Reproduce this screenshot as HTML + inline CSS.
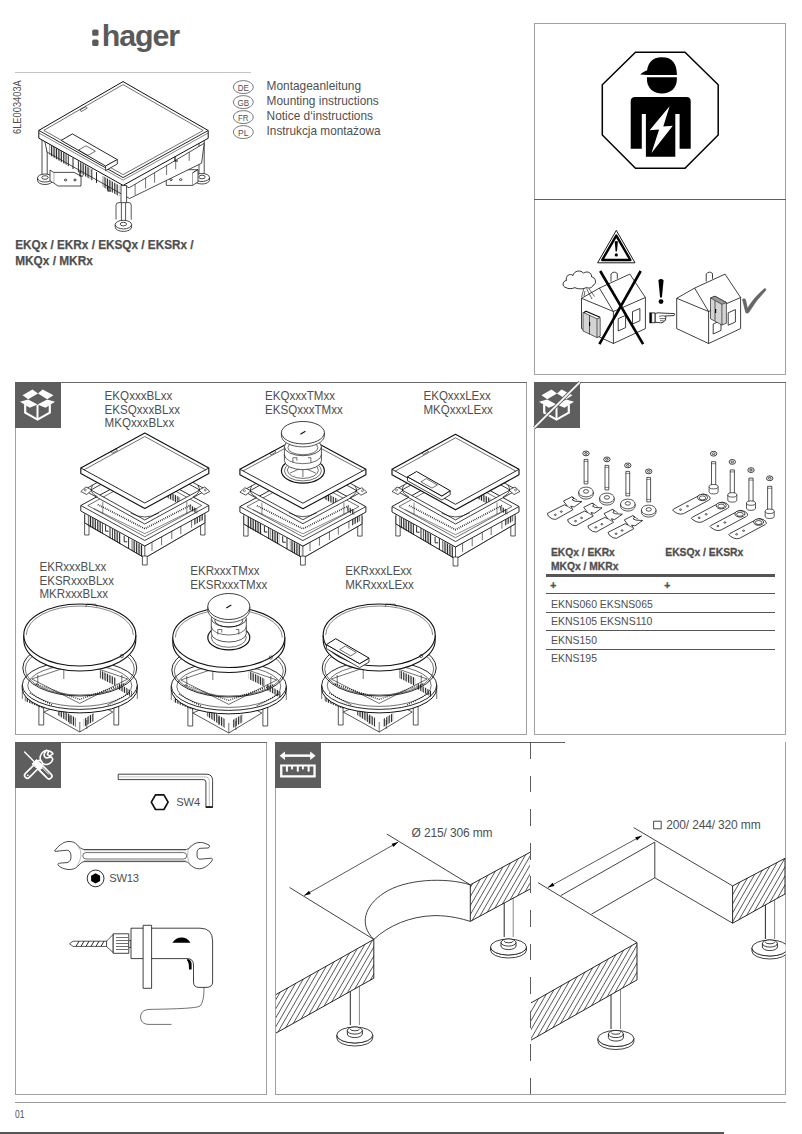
<!DOCTYPE html>
<html><head><meta charset="utf-8">
<style>
html,body{margin:0;padding:0;background:#fff;}
body{width:802px;height:1134px;overflow:hidden;position:relative;}
svg{position:absolute;left:0;top:0;}
text{font-family:"Liberation Sans",sans-serif;fill:#4f4f4f;}
.b{font-weight:700;}
</style></head><body>
<svg width="802" height="1134" viewBox="0 0 802 1134">

<g fill="none" shape-rendering="crispEdges">
  <line x1="15" y1="72.5" x2="251" y2="72.5" stroke="#c4c4c4" stroke-width="1.5"/>
  <rect x="534.5" y="23.5" width="251" height="351" stroke="#a0a0a0"/>
  <line x1="534" y1="199.5" x2="786" y2="199.5" stroke="#5e5e5e" stroke-width="1.2"/>
  <rect x="15.5" y="382.5" width="511" height="352" stroke="#a0a0a0"/>
  <line x1="15" y1="382.5" x2="527" y2="382.5" stroke="#6a6a6a"/>
  <rect x="534.5" y="382.5" width="251" height="352" stroke="#a0a0a0"/>
  <line x1="534" y1="382.5" x2="786" y2="382.5" stroke="#6a6a6a"/>
  <rect x="15.5" y="742.5" width="251" height="352" stroke="#a0a0a0"/>
  <line x1="15" y1="742.5" x2="267" y2="742.5" stroke="#6a6a6a"/>
  <line x1="275.5" y1="742" x2="275.5" y2="1095" stroke="#a0a0a0"/>
  <line x1="275" y1="1094.5" x2="786" y2="1094.5" stroke="#a0a0a0"/>
  <line x1="785.5" y1="742" x2="785.5" y2="1095" stroke="#a0a0a0"/>
  <line x1="275" y1="742.5" x2="565" y2="742.5" stroke="#5e5e5e"/>
  <line x1="530.5" y1="742" x2="530.5" y2="1094" stroke="#5e5e5e" stroke-dasharray="16.8 16.8"/>
  <line x1="15" y1="1102.5" x2="786" y2="1102.5" stroke="#9a9a9a"/>
  <line x1="0" y1="1133" x2="724" y2="1133" stroke="#555" stroke-width="2"/>
</g>
<g fill="#5e5e5e">
  <rect x="15" y="382" width="46" height="46"/>
  <rect x="534" y="382" width="46" height="46"/>
  <rect x="15" y="742" width="46" height="46"/>
  <rect x="275" y="742" width="46" height="46"/>
</g>

<g transform="translate(15,382)" fill="#fff" stroke="none">
<polygon points="7.5,13.2 17.5,7.6 23,11.6 13.2,17.3"/>
<polygon points="27.6,7.6 38.5,13.2 32.2,17.3 23,11.6"/>
<polygon points="5,19.8 13.2,17.5 22.5,22.4 14.8,25.8"/>
<polygon points="32.2,17.5 40,19.8 30.5,25.8 22.5,22.4"/>
<polyline points="10.2,22.3 10.2,30.6 22.5,37.6 34.8,30.6 34.8,22.3" fill="none" stroke="#fff" stroke-width="2.2" stroke-linejoin="miter"/>
<line x1="22.5" y1="23" x2="22.5" y2="37.6" stroke="#fff" stroke-width="2"/>
</g><g transform="translate(534,382)" fill="#fff" stroke="none">
<polygon points="7.5,13.2 17.5,7.6 23,11.6 13.2,17.3"/>
<polygon points="27.6,7.6 38.5,13.2 32.2,17.3 23,11.6"/>
<polygon points="5,19.8 13.2,17.5 22.5,22.4 14.8,25.8"/>
<polygon points="32.2,17.5 40,19.8 30.5,25.8 22.5,22.4"/>
<polyline points="10.2,22.3 10.2,30.6 22.5,37.6 34.8,30.6 34.8,22.3" fill="none" stroke="#fff" stroke-width="2.2" stroke-linejoin="miter"/>
<line x1="22.5" y1="23" x2="22.5" y2="37.6" stroke="#fff" stroke-width="2"/>
</g><line x1="534.3" y1="427.7" x2="579.7" y2="382.3" stroke="#5e5e5e" stroke-width="3.4" stroke-linecap="butt"/><line x1="534.3" y1="427.7" x2="579.7" y2="382.3" stroke="#fff" stroke-width="1.7" stroke-linecap="butt"/><g transform="translate(15,742)" fill="none" stroke-linecap="round" stroke-linejoin="round">
<line x1="12.4" y1="33.4" x2="24.5" y2="21.3" stroke="#fff" stroke-width="7.2"/>
<line x1="12.4" y1="33.4" x2="24.5" y2="21.3" stroke="#5e5e5e" stroke-width="3.8"/>
<circle cx="12.8" cy="33.3" r="0.9" fill="#fff"/>
<path d="M26.4,19.6 A6.9,6.9 0 1 1 38,11.6 L34.6,14.2 L32.4,12.6 L33.6,9.4 L31.4,8.2 L29.4,11.6 A3,3 0 0 0 32.6,15.8 L36.6,15 L37.8,17.6 A6.9,6.9 0 0 1 27.6,21.4" fill="none" stroke="#fff" stroke-width="1.6" stroke-linejoin="round"/>
<line x1="9.6" y1="10" x2="20" y2="20.4" stroke="#fff" stroke-width="1.4"/>
<path d="M17.4,21.6 L21.6,17.4 L25.6,21.4 L21.4,25.6 Z" fill="#fff" stroke="#fff" stroke-width="1"/>
<line x1="25.4" y1="25.4" x2="34" y2="34" stroke="#fff" stroke-width="7.4"/>
<line x1="25.4" y1="25.4" x2="34" y2="34" stroke="#5e5e5e" stroke-width="4"/>
<line x1="24.6" y1="27.6" x2="31.6" y2="34.6" stroke="#fff" stroke-width="1" stroke-linecap="butt"/>
<line x1="27" y1="25.6" x2="34" y2="32.6" stroke="#fff" stroke-width="1" stroke-linecap="butt"/>
<path d="M22.2,22.2 L25,25" stroke="#fff" stroke-width="5"/>
</g><g transform="translate(275,742)" fill="#fff" stroke="none">
<rect x="8.5" y="12.4" width="28.5" height="2.5"/>
<polygon points="4.6,13.65 10,9.4 10,17.9"/>
<polygon points="40.6,13.65 35.2,9.4 35.2,17.9"/>
<path d="M5.1,22.5 H40.7 V35.4 H5.1 Z M7.4,24.6 V33.3 H38.4 V24.6 Z" fill-rule="evenodd"/>
<rect x="10.9" y="24" width="2" height="5.6"/>
<rect x="16.2" y="24" width="1.8" height="3.4"/>
<rect x="21.8" y="24" width="2" height="5.6"/>
<rect x="27" y="24" width="1.8" height="3.4"/>
<rect x="32.6" y="24" width="2" height="5.6"/>
</g>
<g>
<polygon points="635.5,52.3 685,52.3 718.2,84.7 718.2,135 685,168.2 635.5,168.2 602.3,135 602.3,84.7" fill="#fff" stroke="#000" stroke-width="1.5"/>
<path d="M646.9,75 C646.6,63 652,57.2 662,57.2 C672,57.2 677,63 676.9,75 Z M640.2,74.4 C643,72 646,70.5 648.5,70 L648,75 Z" fill="#000"/>
<path d="M646.9,77.3 H676.9 V79 C676.9,88 670.5,93.6 661.9,93.6 C653.3,93.6 646.9,88 646.9,79 Z" fill="#000"/>
<path d="M635,96.9 H686.5 A4.2,4.2 0 0 1 690.7,101 V148.7 H679.6 V114 H675.3 V156.8 H645.9 V114 H641.8 V148.7 H630.7 V101 A4.2,4.2 0 0 1 635,96.9 Z" fill="#000"/>
<polygon points="669.6,106.3 649.6,130.2 659.1,129.4 651.5,152.9 672.8,125.8 663.3,126.6" fill="#fff"/>
</g>
<g stroke="#000" fill="none" stroke-width="0.75" stroke-linejoin="round"><polygon points="616.3,230.4 597.6,262.8 635,262.8" fill="#fff" stroke-width="0.9" stroke-linejoin="round"/><polygon points="616.3,235.6 602.2,260 630.4,260" fill="none" stroke-width="2.4" stroke-linejoin="round"/><path d="M614.7,241.6 Q616.3,240.2 617.9,241.6 L617,251.6 H615.6 Z" fill="#000" stroke="none"/><circle cx="616.3" cy="254.9" r="1.6" fill="#000" stroke="none"/><path d="M611,281.5 V274 Q614,270.5 617.3,273.5 V278.8" fill="#fff"/><polygon points="581.5,298.3 599.4,288.1 629.8,274.1 645.4,297.5 645.4,328.6 613.4,343.5 581.5,328.6" fill="#fff"/><polyline points="581.5,298.3 613.4,311.5 645.4,297.5"/><line x1="599.4" y1="288.1" x2="613.4" y2="311.5"/><line x1="613.4" y1="311.5" x2="613.4" y2="343.5"/><polygon points="618.2,318.6 625.6,315.4 625.6,327.6 618.2,331.0"/><polygon points="632.5,311.6 639.9,308.5 639.9,320.8 632.5,324.0"/><polygon points="583,312.3 597,318.8 600.2,317.6 600.2,336.2 597,337.6 583,331" fill="#d4d4d4" stroke-width="0.6"/><line x1="589.5" y1="315.2" x2="589.5" y2="334.2" stroke-width="0.6"/><line x1="597" y1="318.8" x2="597" y2="337.6" stroke-width="0.6"/><path d="M584,312.5 L586,311.3 L600,317.2" stroke-width="1.2"/><line x1="589.6" y1="322" x2="589.6" y2="326" stroke-width="1.2"/><path d="M706.2,281.5 V274 Q709.2,270.5 712.5,273.5 V278.8" fill="#fff"/><polygon points="676.7,298.3 694.6,288.1 725.0,274.1 740.6,297.5 740.6,328.6 708.6,343.5 676.7,328.6" fill="#fff"/><polyline points="676.7,298.3 708.6,311.5 740.6,297.5"/><line x1="694.6" y1="288.1" x2="708.6" y2="311.5"/><line x1="708.6" y1="311.5" x2="708.6" y2="343.5"/><polygon points="713.2,324.0 721.0,320.4 721.0,330.4 713.2,334.0"/><polygon points="728.2,312.8 735.4,309.6 735.4,322.0 728.2,325.2"/><polygon points="710.5,298 715,296.2 726.4,302.5 726.4,323.2 721.9,325 710.5,318.8" fill="#d4d4d4" stroke-width="0.6"/><line x1="715" y1="300.6" x2="715" y2="320.8" stroke-width="0.6"/><line x1="721.9" y1="304.4" x2="721.9" y2="325" stroke-width="0.6"/><path d="M710.5,298 L715,296.2 L726.4,302.5 L721.9,304.4 Z" fill="#999" stroke-width="0.5"/><line x1="715.6" y1="309" x2="715.6" y2="313" stroke-width="1.2"/><path d="M566,287.6 C562,287 562,281 566.5,280.5 C565,275.8 570,273 573,275.5 C574,270.5 581,269.6 583.5,273.2 C586,270.8 592,272 591.5,276.8 C596,277.5 597,284 593,285.3 C592,288.5 588,288.5 586.5,287.4 C583,289.6 577,289 575,287.6 C572,289 568,289 566,287.6 Z" fill="#fff" stroke-width="0.8"/><path d="M583.8,288.5 L581.5,297.3 M586.5,288.5 L592,299 M589,288.8 L594.5,296.5 M585,291 L584,296" stroke-width="0.6"/><line x1="600.2" y1="271" x2="643.1" y2="344.2" stroke-width="2.6"/><line x1="640.7" y1="271" x2="599.4" y2="344.2" stroke-width="2.6"/><path d="M658.4,280.2 Q661,277.8 663.6,280.2 L661.9,297.4 H660.1 Z" fill="#000" stroke="none"/><circle cx="661" cy="301.6" r="2.4" fill="#000" stroke="none"/><rect x="649.4" y="312.4" width="2.2" height="10.8" fill="#000" stroke="none"/><rect x="651.6" y="312.9" width="3.6" height="9.8" fill="#fff" stroke-width="0.8"/><path d="M655.2,313.6 Q658,312.2 661,313 L674.3,313.6 Q675.2,315 674,315.6 L664.8,316 Q666.6,317.2 665.6,318.6 Q666.2,320.8 664.2,321 Q663.6,323.2 660.6,322.8 L655.2,322.2 Z" fill="#fff" stroke-width="0.8"/><path d="M659,316.4 Q662.4,315.4 664.8,316 M659.6,318.6 L665.6,318.6 M660,320.6 L664.2,321" stroke-width="0.6"/><path d="M742.6,299.4 Q744,298 745.4,299.6 L747.4,308.6 Q755,296 764.8,288.6 Q766.4,288.8 765.6,290.4 Q755.6,300.6 748.6,312.6 Q747,313.6 745.8,312.6 Z" fill="#666" stroke="#666" stroke-width="0.8"/></g>
<g stroke="#111" fill="none" stroke-width="0.8" stroke-linejoin="round"><rect x="350.3" y="978" width="9.099999999999966" height="47" fill="#fff" stroke="none"/><line x1="350.3" y1="978" x2="350.3" y2="1025" stroke-width="0.9"/><line x1="359.4" y1="978" x2="359.4" y2="1025" stroke="#555" stroke-width="0.7"/><path d="M336.8,1035 A18,8 0 0 0 372.8,1035 V1038 A18,8 0 0 1 336.8,1038 Z" fill="#fff"/><ellipse cx="354.8" cy="1035" rx="18" ry="8" fill="#fff"/><ellipse cx="354.8" cy="1034" rx="7.5" ry="3.6" fill="#fff"/><path d="M347.3,1034 V1030.5 A7.5,3.6 0 0 1 362.3,1030.5 V1034" fill="#fff"/><path d="M347.3,1030.5 A7.5,3.6 0 0 0 362.3,1030.5" fill="none"/><path d="M350.3,1029 A4.549999999999983,1.8 0 0 0 359.4,1029" fill="none"/><rect x="504.2" y="895" width="9.000000000000057" height="42" fill="#fff" stroke="none"/><line x1="504.2" y1="895" x2="504.2" y2="937" stroke-width="0.9"/><line x1="513.2" y1="895" x2="513.2" y2="937" stroke="#555" stroke-width="0.7"/><path d="M490.5,947 A18,8 0 0 0 526.5,947 V950 A18,8 0 0 1 490.5,950 Z" fill="#fff"/><ellipse cx="508.5" cy="947" rx="18" ry="8" fill="#fff"/><ellipse cx="508.5" cy="946" rx="7.5" ry="3.6" fill="#fff"/><path d="M501.0,946 V942.5 A7.5,3.6 0 0 1 516.0,942.5 V946" fill="#fff"/><path d="M501.0,942.5 A7.5,3.6 0 0 0 516.0,942.5" fill="none"/><path d="M504.2,941 A4.500000000000028,1.8 0 0 0 513.2,941" fill="none"/><clipPath id="clipL1"><rect x="276" y="742" width="254" height="352"/></clipPath><g clip-path="url(#clipL1)"><polygon points="373.8,939.4 373.8,978.2 274.0,1034.2 274.0,995.6" fill="#fff" stroke="none"/><clipPath id="h1"><polygon points="373.8,939.4 373.8,978.2 274.0,1034.2 274.0,995.6"/></clipPath><g clip-path="url(#h1)" stroke-width="0.7"><path d="M214.3,1034.2 L269.0,939.4 M219.5,1034.2 L274.2,939.4 M224.7,1034.2 L279.4,939.4 M229.9,1034.2 L284.6,939.4 M235.1,1034.2 L289.8,939.4 M240.3,1034.2 L295.0,939.4 M245.5,1034.2 L300.2,939.4 M250.7,1034.2 L305.4,939.4 M255.9,1034.2 L310.6,939.4 M261.1,1034.2 L315.8,939.4 M266.3,1034.2 L321.0,939.4 M271.5,1034.2 L326.2,939.4 M276.7,1034.2 L331.4,939.4 M281.9,1034.2 L336.6,939.4 M287.1,1034.2 L341.8,939.4 M292.3,1034.2 L347.0,939.4 M297.5,1034.2 L352.2,939.4 M302.7,1034.2 L357.4,939.4 M307.9,1034.2 L362.6,939.4 M313.1,1034.2 L367.8,939.4 M318.3,1034.2 L373.0,939.4 M323.5,1034.2 L378.2,939.4 M328.7,1034.2 L383.4,939.4 M333.9,1034.2 L388.6,939.4 M339.1,1034.2 L393.8,939.4 M344.3,1034.2 L399.0,939.4 M349.5,1034.2 L404.2,939.4 M354.7,1034.2 L409.4,939.4 M359.9,1034.2 L414.6,939.4 M365.1,1034.2 L419.8,939.4 M370.3,1034.2 L425.0,939.4 M375.5,1034.2 L430.2,939.4" fill="none"/></g><polygon points="373.8,939.4 373.8,978.2 274.0,1034.2 274.0,995.6" fill="none" stroke-width="0.9"/></g><clipPath id="clipL"><rect x="276" y="742" width="254" height="352"/></clipPath><g clip-path="url(#clipL)"><polygon points="470.3,884.8 470.3,921.4 532.0,888.0 532.0,851.2" fill="#fff" stroke="none"/><clipPath id="h2"><polygon points="470.3,884.8 470.3,921.4 532.0,888.0 532.0,851.2"/></clipPath><g clip-path="url(#h2)" stroke-width="0.7"><path d="M424.8,921.4 L465.3,851.2 M430.0,921.4 L470.5,851.2 M435.2,921.4 L475.7,851.2 M440.4,921.4 L480.9,851.2 M445.6,921.4 L486.1,851.2 M450.8,921.4 L491.3,851.2 M456.0,921.4 L496.5,851.2 M461.2,921.4 L501.7,851.2 M466.4,921.4 L506.9,851.2 M471.6,921.4 L512.1,851.2 M476.8,921.4 L517.3,851.2 M482.0,921.4 L522.5,851.2 M487.2,921.4 L527.7,851.2 M492.4,921.4 L532.9,851.2 M497.6,921.4 L538.1,851.2 M502.8,921.4 L543.3,851.2 M508.0,921.4 L548.5,851.2 M513.2,921.4 L553.7,851.2 M518.4,921.4 L558.9,851.2 M523.6,921.4 L564.1,851.2 M528.8,921.4 L569.3,851.2 M534.0,921.4 L574.5,851.2" fill="none"/></g><polygon points="470.3,884.8 470.3,921.4 532.0,888.0 532.0,851.2" fill="none" stroke-width="0.9"/></g><line x1="289.6" y1="887.5" x2="373.8" y2="939.4"/><line x1="386.8" y1="834" x2="470.3" y2="884.8"/><path d="M470.3,884.8 C445,877 405,879 384,893 C364,906 359,925 373.8,939.4"/><path d="M373.8,939.4 C388,926 410,916 435,915.6 C450,915.6 462,918.8 470.3,921.4"/><line x1="304.2" y1="895.6" x2="398.2" y2="842.1" stroke-width="0.7"/><polygon points="304.2,895.6 309.0,890.8 310.7,893.9" fill="#000" stroke="none"/><polygon points="398.2,842.1 393.4,846.9 391.7,843.8" fill="#000" stroke="none"/><clipPath id="clipR"><rect x="531" y="742" width="254.5" height="352"/></clipPath><g clip-path="url(#clipR)"><rect x="611" y="979.9" width="9.5" height="49.10000000000002" fill="#fff" stroke="none"/><line x1="611" y1="979.9" x2="611" y2="1029" stroke-width="0.9"/><line x1="620.5" y1="979.9" x2="620.5" y2="1029" stroke="#555" stroke-width="0.7"/><path d="M597.9,1038.5 A18,8 0 0 0 633.9,1038.5 V1041.5 A18,8 0 0 1 597.9,1041.5 Z" fill="#fff"/><ellipse cx="615.9" cy="1038.5" rx="18" ry="8" fill="#fff"/><ellipse cx="615.9" cy="1037.5" rx="7.5" ry="3.6" fill="#fff"/><path d="M608.4,1037.5 V1034.0 A7.5,3.6 0 0 1 623.4,1034.0 V1037.5" fill="#fff"/><path d="M608.4,1034.0 A7.5,3.6 0 0 0 623.4,1034.0" fill="none"/><path d="M611,1032.5 A4.75,1.8 0 0 0 620.5,1032.5" fill="none"/><rect x="765.4" y="895" width="9.200000000000045" height="44" fill="#fff" stroke="none"/><line x1="765.4" y1="895" x2="765.4" y2="939" stroke-width="0.9"/><line x1="774.6" y1="895" x2="774.6" y2="939" stroke="#555" stroke-width="0.7"/><path d="M751.9,948 A18,8 0 0 0 787.9,948 V951 A18,8 0 0 1 751.9,951 Z" fill="#fff"/><ellipse cx="769.9" cy="948" rx="18" ry="8" fill="#fff"/><ellipse cx="769.9" cy="947" rx="7.5" ry="3.6" fill="#fff"/><path d="M762.4,947 V943.5 A7.5,3.6 0 0 1 777.4,943.5 V947" fill="#fff"/><path d="M762.4,943.5 A7.5,3.6 0 0 0 777.4,943.5" fill="none"/><path d="M765.4,942 A4.600000000000023,1.8 0 0 0 774.6,942" fill="none"/><polygon points="637.0,942.6 637.0,979.9 529.0,1041.3 529.0,1004.0" fill="#fff" stroke="none"/><clipPath id="h3"><polygon points="637.0,942.6 637.0,979.9 529.0,1041.3 529.0,1004.0"/></clipPath><g clip-path="url(#h3)" stroke-width="0.7"><path d="M467.1,1041.3 L524.0,942.6 M472.3,1041.3 L529.2,942.6 M477.5,1041.3 L534.4,942.6 M482.7,1041.3 L539.6,942.6 M487.9,1041.3 L544.8,942.6 M493.1,1041.3 L550.0,942.6 M498.3,1041.3 L555.2,942.6 M503.5,1041.3 L560.4,942.6 M508.7,1041.3 L565.6,942.6 M513.9,1041.3 L570.8,942.6 M519.1,1041.3 L576.0,942.6 M524.3,1041.3 L581.2,942.6 M529.5,1041.3 L586.4,942.6 M534.7,1041.3 L591.6,942.6 M539.9,1041.3 L596.8,942.6 M545.1,1041.3 L602.0,942.6 M550.3,1041.3 L607.2,942.6 M555.5,1041.3 L612.4,942.6 M560.7,1041.3 L617.6,942.6 M565.9,1041.3 L622.8,942.6 M571.1,1041.3 L628.0,942.6 M576.3,1041.3 L633.2,942.6 M581.5,1041.3 L638.4,942.6 M586.7,1041.3 L643.6,942.6 M591.9,1041.3 L648.8,942.6 M597.1,1041.3 L654.0,942.6 M602.3,1041.3 L659.2,942.6 M607.5,1041.3 L664.4,942.6 M612.7,1041.3 L669.6,942.6 M617.9,1041.3 L674.8,942.6 M623.1,1041.3 L680.0,942.6 M628.3,1041.3 L685.2,942.6 M633.5,1041.3 L690.4,942.6 M638.7,1041.3 L695.6,942.6" fill="none"/></g><polygon points="637.0,942.6 637.0,979.9 529.0,1041.3 529.0,1004.0" fill="none" stroke-width="0.9"/><polygon points="732.6,885.9 732.6,923.2 785.0,894.0 785.0,858.3" fill="#fff" stroke="none"/><clipPath id="h4"><polygon points="732.6,885.9 732.6,923.2 785.0,894.0 785.0,858.3"/></clipPath><g clip-path="url(#h4)" stroke-width="0.7"><path d="M690.2,923.2 L727.6,858.3 M695.4,923.2 L732.8,858.3 M700.6,923.2 L738.0,858.3 M705.8,923.2 L743.2,858.3 M711.0,923.2 L748.4,858.3 M716.2,923.2 L753.6,858.3 M721.4,923.2 L758.8,858.3 M726.6,923.2 L764.0,858.3 M731.8,923.2 L769.2,858.3 M737.0,923.2 L774.4,858.3 M742.2,923.2 L779.6,858.3 M747.4,923.2 L784.8,858.3 M752.6,923.2 L790.0,858.3 M757.8,923.2 L795.2,858.3 M763.0,923.2 L800.4,858.3 M768.2,923.2 L805.6,858.3 M773.4,923.2 L810.8,858.3 M778.6,923.2 L816.0,858.3 M783.8,923.2 L821.2,858.3 M789.0,923.2 L826.4,858.3" fill="none"/></g><polygon points="732.6,885.9 732.6,923.2 785.0,894.0 785.0,858.3" fill="none" stroke-width="0.9"/><line x1="538.1" y1="882.7" x2="637" y2="942.6"/><line x1="633.7" y1="827.6" x2="732.6" y2="885.9"/><polyline points="560.8,895.6 654.8,842.1 654.8,877.8 732.6,923.2"/><line x1="591.6" y1="914.1" x2="654.8" y2="877.8"/><line x1="547.8" y1="887.5" x2="641.8" y2="835.7" stroke-width="0.7"/><polygon points="547.8,887.5 552.6,882.8 554.4,885.9" fill="#000" stroke="none"/><polygon points="641.8,835.7 637.0,840.4 635.2,837.3" fill="#000" stroke="none"/></g><rect x="653.6" y="821.2" width="7.6" height="7.6" stroke="#333" stroke-width="0.9"/></g><g style="font-size:12px;letter-spacing:-0.15px"><text x="411.6" y="836.8">Ø 215/ 306 mm</text><text x="666.2" y="829">200/ 244/ 320 mm</text></g><g stroke="#111" fill="none" stroke-width="0.8" stroke-linejoin="round"><path d="M118.2,774.2 H206.2 Q212.6,774.2 212.6,780.6 V807.4 H205.9 V782.2 Q205.9,779.6 203.2,779.6 H118.2 Z" fill="#fff" stroke-width="0.8"/><path d="M118.2,776.9 H205 Q209.3,776.9 209.3,781.2 V807" stroke="#999" stroke-width="0.6"/><rect x="205.9" y="806.2" width="6.7" height="1.6" fill="#111" stroke="none"/><polygon points="168.1,802.2 163.9,809.5 155.5,809.5 151.3,802.2 155.5,794.9 163.9,794.9" stroke-width="1.7" stroke-linejoin="round"/><path d="M54.5,851 C58,846 63,842 68,841.5 C72,841.2 75,842.5 77,844.5 C79,847 81,849 84,849.5 H186.5 C189,849 191,846 194,844 C197,842.3 201,842 204,843 L209,845 C210,846.5 209.5,847.5 208,848 L200,848.3 C197.5,849 197,851 197,854 C197,857 197.5,859.2 200,859.2 L211.5,858.2 C212.8,859 212.5,860.5 211,862 C208,865.5 204,868.6 199.5,868.8 C195,869 192,866.5 189.5,864 C188,862.5 187,861.8 185,861.6 H84 C81.5,862 80,864 77.5,866.5 C75,868.8 72,869.8 68,869.5 C64,869 60,867.5 58,865 C57.6,864 58.2,863.4 59.5,863.2 L67,862.6 C70,862 71,859.5 71,856.5 C71,853 70,850.5 67,850.2 L55,851.4 Z" fill="#fff" stroke-width="0.75"/><path d="M86,852.6 H183.5 A3.2,3.2 0 0 1 183.5,859 H86 A3.2,3.2 0 0 1 86,852.6 Z" stroke-width="0.6"/><path d="M84,850.7 H186 M84,860.5 H186" stroke="#bbb" stroke-width="0.9"/><path d="M77,845 Q82,850 81,856 Q80,862 77,866 M191,845 Q187,850 187.5,856 Q188,862 191,866" stroke="#777" stroke-width="0.5"/><circle cx="95.6" cy="878.4" r="8.4" stroke-width="0.9"/><polygon points="100.1,881.0 95.6,883.6 91.1,881.0 91.1,875.8 95.6,873.2 100.1,875.8" fill="#000" stroke="none"/><path d="M69.5,943.8 L73,941.2 H107 V946.4 H73 Z" fill="#fff" stroke-width="0.7"/><path d="M76,946.4 L79,941.2 M81,946.4 L84,941.2 M86,946.4 L89,941.2 M91,946.4 L94,941.2 M96,946.4 L99,941.2 M101,946.4 L104,941.2" stroke-width="0.9"/><path d="M106.6,946.6 L113.2,952.6 V934.4 L106.6,941 Z" fill="#fff" stroke-width="0.7"/><rect x="113.2" y="933.8" width="15.6" height="19.5" fill="#fff" stroke-width="0.8"/><path d="M116,937.5 H128 M116,940.5 H128 M116,943.5 H128 M116,946.5 H128 M116,949.5 H128" stroke-width="0.6"/><rect x="128.8" y="940.5" width="2.2" height="7" fill="#fff" stroke-width="0.6"/><path d="M131,928.2 H200 Q212.6,928.2 212.6,941 V982 Q212.6,987.4 206,987.4 H199 Q193.5,987.4 193.5,982 V965 Q193.5,958.6 187,958.6 H131 Z" fill="#fff" stroke-width="0.8"/><rect x="143.1" y="925.3" width="8.5" height="63" fill="#fff" stroke-width="0.8"/><path d="M172.3,942.8 Q176,937.6 181.5,937.6 Q187.5,937.6 190.4,942.8 Z" fill="#000" stroke="none"/><path d="M187.2,958.8 Q191.6,960 191.6,964 V969.4 H189 Q189,962 187.2,960.8 Z" fill="#000" stroke="none"/><path d="M204,987.6 C204,996 203,1003 200,1006 C196,1008.6 170,1009 150,1009.4 C143,1009.5 140.6,1013 140.6,1016.8 C140.6,1021 143,1024.4 149,1024.4 H171.5" stroke-width="0.6"/></g><g style="font-size:11.2px;letter-spacing:-0.2px"><text x="176.3" y="806.4">SW4</text><text x="109.2" y="882">SW13</text></g>
<defs><pattern id="vp" width="1.7" height="4" patternUnits="userSpaceOnUse"><rect x="0" y="0" width="0.85" height="4" fill="#222"/></pattern></defs><g stroke="#111" fill="none" stroke-width="0.7" stroke-linejoin="round"><rect x="84.6" y="515.0" width="4.4" height="20.0" fill="#fff"/><rect x="200.6" y="515.0" width="4.4" height="20.0" fill="#fff"/><polygon points="84.8,511.0 144.8,546.0 204.8,511.0 204.8,523.0 144.8,558.0 84.8,523.0" fill="#fff"/><line x1="144.8" y1="546.0" x2="144.8" y2="558.0"/><polygon points="87.8,514.7 102.8,523.2 102.8,534.2 87.8,525.7" fill="url(#vp)" stroke="none"/><polygon points="111.8,528.3 120.8,533.4 120.8,544.4 111.8,539.3" fill="url(#vp)" stroke="none"/><polygon points="131.6,539.5 143.0,546.0 143.0,557.0 131.6,550.5" fill="url(#vp)" stroke="none"/><path d="M105.6,525.2 v6 h3 M110.0,526.3 v12.0" stroke-width="0.9"/><path d="M124.2,535.8 v6 h3 M128.6,536.8 v12.0" stroke-width="0.9"/><polyline points="84.8,523.0 144.8,558.0 204.8,523.0" stroke-width="0.6"/><line x1="152.0" y1="541.8" x2="152.0" y2="550.8" stroke-width="0.6"/><line x1="161.6" y1="536.2" x2="161.6" y2="545.2" stroke-width="0.6"/><line x1="171.8" y1="530.2" x2="171.8" y2="539.2" stroke-width="0.6"/><line x1="180.8" y1="525.0" x2="180.8" y2="534.0" stroke-width="0.6"/><line x1="191.6" y1="518.7" x2="191.6" y2="527.7" stroke-width="0.6"/><polygon points="194.0,518.1 203.0,513.0 203.0,520.0 194.0,525.1" fill="url(#vp)" stroke="none"/><rect x="142.4" y="556.0" width="4.8" height="9" fill="#fff"/><polygon points="80.8,505.5 144.8,470.5 208.8,505.5 208.8,511.0 144.8,546.0 80.8,511.0" fill="#fff" stroke-width="0.9"/><polyline points="80.8,505.5 144.8,540.5 208.8,505.5" stroke-width="0.8"/><polygon points="87.8,505.5 144.8,474.3 201.8,505.5 144.8,536.7" stroke-width="0.6"/><polyline points="93.8,508.5 144.8,533.7 195.8,508.5" stroke-width="0.5"/><line x1="102.8" y1="501.5" x2="102.8" y2="513.5" stroke-width="0.5"/><line x1="186.8" y1="501.5" x2="186.8" y2="513.5" stroke-width="0.5"/><polygon points="166.5,490.2 180.1,497.6 180.1,504.6 166.5,497.2" fill="url(#vp)" stroke="none"/><polygon points="189.3,504.6 197.2,509.0 197.2,514.0 189.3,509.6" fill="url(#vp)" stroke="none"/><polyline points="97.8,504.5 144.8,528.7 191.8,504.5" stroke-width="1.6" stroke-dasharray="0.8 1.2"/><path d="M83.8,490.0 144.8,456.0 206.8,490.0 144.8,524.0Z M90.8,490.0 144.8,460.0 199.8,490.0 144.8,520.0Z" fill="#fff" fill-rule="evenodd" stroke-width="0.8"/><path d="M80.8,491.5 l5,-4.5 l6,3 l-5,4.5 z M209.8,491.5 l-5,-4.5 l-6,3 l5,4.5 z" fill="#fff" stroke-width="0.7"/><circle cx="85.3" cy="490.0" r="1" stroke-width="0.5"/><circle cx="205.3" cy="490.0" r="1" stroke-width="0.5"/><path d="M92.8,485.0 Q87.8,492.0 97.8,497.0 M197.8,485.0 Q202.8,492.0 192.8,497.0" stroke-width="0.7"/><path d="M130.8,513.0 Q144.8,521.0 158.8,513.0" stroke-width="0.7"/><polygon points="80.8,468.0 144.8,433.0 208.8,468.0 208.8,473.5 144.8,508.5 80.8,473.5" fill="#fff" stroke-width="1.15"/><polyline points="80.8,468.0 144.8,503.0 208.8,468.0" stroke-width="0.9"/><polyline points="84.0,469.8 144.8,436.5 205.6,469.8" stroke-width="0.6"/><path d="M116.0,448.8 l-5,2.8 l1.4,1.6 l5,-2.8 z" stroke-width="0.6"/></g><g stroke="#111" fill="none" stroke-width="0.7" stroke-linejoin="round"><rect x="243.7" y="516.1" width="4.4" height="20.0" fill="#fff"/><rect x="357.7" y="516.1" width="4.4" height="20.0" fill="#fff"/><polygon points="243.9,512.1 302.9,546.1 361.9,512.1 361.9,524.1 302.9,558.1 243.9,524.1" fill="#fff"/><line x1="302.9" y1="546.1" x2="302.9" y2="558.1"/><polygon points="246.8,515.8 261.6,524.0 261.6,535.0 246.8,526.8" fill="url(#vp)" stroke="none"/><polygon points="270.4,529.0 279.3,533.9 279.3,544.9 270.4,540.0" fill="url(#vp)" stroke="none"/><polygon points="289.9,539.8 301.1,546.1 301.1,557.1 289.9,550.8" fill="url(#vp)" stroke="none"/><path d="M264.4,526.0 v6 h3 M268.7,527.0 v12.0" stroke-width="0.9"/><path d="M282.7,536.2 v6 h3 M287.0,537.2 v12.0" stroke-width="0.9"/><polyline points="243.9,524.1 302.9,558.1 361.9,524.1" stroke-width="0.6"/><line x1="310.0" y1="542.0" x2="310.0" y2="551.0" stroke-width="0.6"/><line x1="319.4" y1="536.6" x2="319.4" y2="545.6" stroke-width="0.6"/><line x1="329.4" y1="530.8" x2="329.4" y2="539.8" stroke-width="0.6"/><line x1="338.3" y1="525.7" x2="338.3" y2="534.7" stroke-width="0.6"/><line x1="348.9" y1="519.6" x2="348.9" y2="528.6" stroke-width="0.6"/><polygon points="351.3,519.0 360.1,514.1 360.1,521.1 351.3,526.0" fill="url(#vp)" stroke="none"/><rect x="300.5" y="556.1" width="4.8" height="9" fill="#fff"/><polygon points="239.9,506.6 302.9,472.6 365.9,506.6 365.9,512.1 302.9,546.1 239.9,512.1" fill="#fff" stroke-width="0.9"/><polyline points="239.9,506.6 302.9,540.6 365.9,506.6" stroke-width="0.8"/><polygon points="246.9,506.6 302.9,476.4 358.9,506.6 302.9,536.8" stroke-width="0.6"/><polyline points="252.9,509.6 302.9,533.8 352.9,509.6" stroke-width="0.5"/><line x1="261.9" y1="502.6" x2="261.9" y2="514.6" stroke-width="0.5"/><line x1="343.9" y1="502.6" x2="343.9" y2="514.6" stroke-width="0.5"/><polygon points="324.2,491.9 337.6,499.1 337.6,506.1 324.2,498.9" fill="url(#vp)" stroke="none"/><polygon points="346.6,506.0 354.4,510.2 354.4,515.2 346.6,511.0" fill="url(#vp)" stroke="none"/><polyline points="256.9,505.6 302.9,528.8 348.9,505.6" stroke-width="1.6" stroke-dasharray="0.8 1.2"/><path d="M242.9,490.7 302.9,457.7 363.9,490.7 302.9,523.7Z M249.9,490.7 302.9,461.7 356.9,490.7 302.9,519.7Z" fill="#fff" fill-rule="evenodd" stroke-width="0.8"/><path d="M239.9,492.2 l5,-4.5 l6,3 l-5,4.5 z M366.9,492.2 l-5,-4.5 l-6,3 l5,4.5 z" fill="#fff" stroke-width="0.7"/><circle cx="244.4" cy="490.7" r="1" stroke-width="0.5"/><circle cx="362.4" cy="490.7" r="1" stroke-width="0.5"/><path d="M251.9,485.7 Q246.9,492.7 256.9,497.7 M354.9,485.7 Q359.9,492.7 349.9,497.7" stroke-width="0.7"/><path d="M288.9,512.7 Q302.9,520.7 316.9,512.7" stroke-width="0.7"/><polygon points="239.9,469.2 302.9,435.2 365.9,469.2 365.9,474.7 302.9,508.7 239.9,474.7" fill="#fff" stroke-width="1.15"/><polyline points="239.9,469.2 302.9,503.2 365.9,469.2" stroke-width="0.9"/><polyline points="243.1,470.9 302.9,438.7 362.7,470.9" stroke-width="0.6"/><path d="M274.5,450.5 l-5,2.8 l1.4,1.6 l5,-2.8 z" stroke-width="0.6"/><ellipse cx="302.9" cy="470.7" rx="21.5" ry="12.4" fill="#fff" stroke-width="1.2"/><ellipse cx="302.9" cy="470.7" rx="18.5" ry="10.2" stroke-width="0.6"/><ellipse cx="302.9" cy="470.2" rx="15.5" ry="8.2" stroke-width="0.6"/><path d="M289.9,473.2 L302.9,467.2 L315.9,473.2 M302.9,467.2 V477.2" stroke-width="0.6"/><path d="M284.4,446.7 V460.7 A18.5,9 0 0 0 321.4,460.7 V446.7" fill="#fff" stroke-width="0.7"/><ellipse cx="302.9" cy="446.7" rx="18.5" ry="9" fill="#fff" stroke-width="0.7"/><ellipse cx="302.9" cy="447.7" rx="15" ry="7" stroke-width="0.6"/><path d="M284.4,454.7 A18.5,9 0 0 0 321.4,454.7" stroke-width="0.6"/><path d="M292.9,462.7 v-5 h4 v3 M310.9,462.7 v-5 h-3" stroke-width="0.6"/><path d="M281.4,432.7 V435.7 A21.5,11.2 0 0 0 324.4,435.7 V432.7" fill="#fff" stroke-width="0.7"/><ellipse cx="302.9" cy="432.7" rx="21.5" ry="11.2" fill="#fff" stroke-width="0.8"/><line x1="300.4" y1="434.2" x2="305.4" y2="431.2" stroke-width="1.1"/></g><g stroke="#111" fill="none" stroke-width="0.7" stroke-linejoin="round"><rect x="395.8" y="516.0" width="4.4" height="20.0" fill="#fff"/><rect x="510.8" y="516.0" width="4.4" height="20.0" fill="#fff"/><polygon points="396.0,512.0 455.5,547.0 515.0,512.0 515.0,524.0 455.5,559.0 396.0,524.0" fill="#fff"/><line x1="455.5" y1="547.0" x2="455.5" y2="559.0"/><polygon points="399.0,515.7 413.9,524.2 413.9,535.2 399.0,526.7" fill="url(#vp)" stroke="none"/><polygon points="422.8,529.3 431.7,534.4 431.7,545.4 422.8,540.3" fill="url(#vp)" stroke="none"/><polygon points="442.4,540.5 453.7,547.0 453.7,558.0 442.4,551.5" fill="url(#vp)" stroke="none"/><path d="M416.6,526.2 v6 h3 M421.0,527.3 v12.0" stroke-width="0.9"/><path d="M435.1,536.8 v6 h3 M439.4,537.8 v12.0" stroke-width="0.9"/><polyline points="396.0,524.0 455.5,559.0 515.0,524.0" stroke-width="0.6"/><line x1="462.6" y1="542.8" x2="462.6" y2="551.8" stroke-width="0.6"/><line x1="472.2" y1="537.2" x2="472.2" y2="546.2" stroke-width="0.6"/><line x1="482.3" y1="531.2" x2="482.3" y2="540.2" stroke-width="0.6"/><line x1="491.2" y1="526.0" x2="491.2" y2="535.0" stroke-width="0.6"/><line x1="501.9" y1="519.7" x2="501.9" y2="528.7" stroke-width="0.6"/><polygon points="504.3,519.1 513.2,514.0 513.2,521.0 504.3,526.1" fill="url(#vp)" stroke="none"/><rect x="453.1" y="557.0" width="4.8" height="9" fill="#fff"/><polygon points="392.0,506.5 455.5,471.5 519.0,506.5 519.0,512.0 455.5,547.0 392.0,512.0" fill="#fff" stroke-width="0.9"/><polyline points="392.0,506.5 455.5,541.5 519.0,506.5" stroke-width="0.8"/><polygon points="399.0,506.5 455.5,475.3 512.0,506.5 455.5,537.7" stroke-width="0.6"/><polyline points="405.0,509.5 455.5,534.7 506.0,509.5" stroke-width="0.5"/><line x1="414.0" y1="502.5" x2="414.0" y2="514.5" stroke-width="0.5"/><line x1="497.0" y1="502.5" x2="497.0" y2="514.5" stroke-width="0.5"/><polygon points="477.0,491.2 490.5,498.6 490.5,505.6 477.0,498.2" fill="url(#vp)" stroke="none"/><polygon points="499.6,505.6 507.5,510.0 507.5,515.0 499.6,510.6" fill="url(#vp)" stroke="none"/><polyline points="409.0,505.5 455.5,529.7 502.0,505.5" stroke-width="1.6" stroke-dasharray="0.8 1.2"/><path d="M395.0,490.0 455.5,456.0 517.0,490.0 455.5,524.0Z M402.0,490.0 455.5,460.1 510.0,490.0 455.5,519.9Z" fill="#fff" fill-rule="evenodd" stroke-width="0.8"/><path d="M392.0,491.5 l5,-4.5 l6,3 l-5,4.5 z M520.0,491.5 l-5,-4.5 l-6,3 l5,4.5 z" fill="#fff" stroke-width="0.7"/><circle cx="396.5" cy="490.0" r="1" stroke-width="0.5"/><circle cx="515.5" cy="490.0" r="1" stroke-width="0.5"/><path d="M404.0,485.0 Q399.0,492.0 409.0,497.0 M508.0,485.0 Q513.0,492.0 503.0,497.0" stroke-width="0.7"/><path d="M441.5,512.9 Q455.5,520.9 469.5,512.9" stroke-width="0.7"/><polygon points="392.0,469.3 455.5,434.3 519.0,469.3 519.0,474.8 455.5,509.8 392.0,474.8" fill="#fff" stroke-width="1.15"/><polyline points="392.0,469.3 455.5,504.3 519.0,469.3" stroke-width="0.9"/><polyline points="395.2,471.1 455.5,437.8 515.8,471.1" stroke-width="0.6"/><path d="M426.9,450.1 l-5,2.8 l1.4,1.6 l5,-2.8 z" stroke-width="0.6"/><polygon points="407.5,476.8 441.9,496.0 450.2,490.7 450.2,494.7 441.9,500.0 407.5,480.8" fill="#fff" stroke-width="0.8"/><polygon points="416.6,471.5 450.2,490.7 441.9,496.0 407.5,476.8" fill="#fff" stroke-width="1"/><polygon points="426.3,478.6 437.4,485.0 432.0,488.1 420.9,481.8" stroke-width="0.6"/></g><g stroke="#111" fill="none" stroke-width="0.7" stroke-linejoin="round"><rect x="38.9" y="705.0" width="4.8" height="20.0" fill="#fff"/><rect x="113.9" y="705.0" width="4.8" height="20.0" fill="#fff"/><polygon points="43.8,712.0 79.8,732.0 112.8,712.0 99.8,705.0 59.8,705.0" fill="#fff" stroke-width="0.7"/><polygon points="57.8,715.0 75.8,727.0 75.8,718.0 57.8,707.0" fill="url(#vp)" stroke="none"/><polygon points="83.8,727.0 93.8,721.0 93.8,713.0 83.8,719.0" fill="url(#vp)" stroke="none"/><path d="M79.8,732 V722 M86.8,729 v-9 M69.8,724 v-8" stroke-width="0.6"/><path d="M22.299999999999997,685 V699 M137.3,685 V699" stroke-width="0.6"/><polygon points="24.8,693.0 24.8,701.0 43.8,709.0 43.8,703.0" fill="url(#vp)" stroke="none"/><path d="M22.299999999999997,685 V688.5 A57.5,24.4 0 0 0 137.3,688.5 V685" fill="#fff" stroke-width="1"/><ellipse cx="79.8" cy="685" rx="57.5" ry="24.4" fill="#fff" stroke-width="0.9"/><ellipse cx="79.8" cy="685.5" rx="52" ry="20.9" stroke-width="0.6"/><polygon points="31.8,679.0 79.8,703.4 127.8,679.0 79.8,662.6" fill="#fff" stroke-width="0.6"/><polyline points="35.8,684.0 79.8,699.4 123.8,684.0" stroke-width="1.4" stroke-dasharray="0.8 1.3"/><path d="M37.8,675 v10 M121.80000000000001,675 v10 M63.8,669 v10" stroke-width="0.6"/><polygon points="99.8,670.0 115.8,678.0 115.8,686.0 99.8,678.0" fill="url(#vp)" stroke="none"/><polygon points="117.8,683.0 131.8,691.0 131.8,697.0 117.8,689.0" fill="url(#vp)" stroke="none"/><path d="M29.799999999999997,693 L51.8,705 M129.8,693 L107.8,705" stroke-width="1.2" stroke-dasharray="1 1.2"/><ellipse cx="79.8" cy="668" rx="57" ry="28" stroke-width="0.9"/><ellipse cx="79.8" cy="669" rx="54.5" ry="26" stroke-width="0.6"/><path d="M23.799999999999997,635 V640 A56,31 0 0 0 135.8,640 V635" fill="#fff" stroke-width="1.1"/><ellipse cx="79.8" cy="635" rx="56" ry="31" fill="#fff" stroke-width="1.1"/><path d="M26.299999999999997,635 A53.5,29 0 0 1 133.3,635" stroke-width="0.5"/><path d="M85.8,606.6 l1,-2.4 h9 l1,2.4" stroke-width="0.6"/><circle cx="121.80000000000001" cy="656" r="1.6" stroke-width="0.6"/></g><g stroke="#111" fill="none" stroke-width="0.7" stroke-linejoin="round"><rect x="187.9" y="706.0" width="4.8" height="20.0" fill="#fff"/><rect x="262.9" y="706.0" width="4.8" height="20.0" fill="#fff"/><polygon points="192.8,713.0 228.8,733.0 261.8,713.0 248.8,706.0 208.8,706.0" fill="#fff" stroke-width="0.7"/><polygon points="206.8,716.0 224.8,728.0 224.8,719.0 206.8,708.0" fill="url(#vp)" stroke="none"/><polygon points="232.8,728.0 242.8,722.0 242.8,714.0 232.8,720.0" fill="url(#vp)" stroke="none"/><path d="M228.8,733 V723 M235.8,730 v-9 M218.8,725 v-8" stroke-width="0.6"/><path d="M171.3,686 V700 M286.3,686 V700" stroke-width="0.6"/><polygon points="173.8,694.0 173.8,702.0 192.8,710.0 192.8,704.0" fill="url(#vp)" stroke="none"/><path d="M171.3,686 V689.5 A57.5,24.4 0 0 0 286.3,689.5 V686" fill="#fff" stroke-width="1"/><ellipse cx="228.8" cy="686" rx="57.5" ry="24.4" fill="#fff" stroke-width="0.9"/><ellipse cx="228.8" cy="686.5" rx="52" ry="20.9" stroke-width="0.6"/><polygon points="180.8,680.0 228.8,704.4 276.8,680.0 228.8,663.6" fill="#fff" stroke-width="0.6"/><polyline points="184.8,685.0 228.8,700.4 272.8,685.0" stroke-width="1.4" stroke-dasharray="0.8 1.3"/><path d="M186.8,676 v10 M270.8,676 v10 M212.8,670 v10" stroke-width="0.6"/><polygon points="248.8,671.0 264.8,679.0 264.8,687.0 248.8,679.0" fill="url(#vp)" stroke="none"/><polygon points="266.8,684.0 280.8,692.0 280.8,698.0 266.8,690.0" fill="url(#vp)" stroke="none"/><path d="M178.8,694 L200.8,706 M278.8,694 L256.8,706" stroke-width="1.2" stroke-dasharray="1 1.2"/><ellipse cx="228.8" cy="670" rx="57" ry="27" stroke-width="0.9"/><ellipse cx="228.8" cy="671" rx="54.5" ry="25" stroke-width="0.6"/><path d="M172.8,637.5 V642.5 A56,30 0 0 0 284.8,642.5 V637.5" fill="#fff" stroke-width="1.1"/><ellipse cx="228.8" cy="637.5" rx="56" ry="30" fill="#fff" stroke-width="1.1"/><path d="M175.3,637.5 A53.5,28 0 0 1 282.3,637.5" stroke-width="0.5"/><path d="M234.8,610.1 l1,-2.4 h9 l1,2.4" stroke-width="0.6"/><circle cx="270.8" cy="657.5" r="1.6" stroke-width="0.6"/><ellipse cx="228.8" cy="637.5" rx="21" ry="12.4" fill="#fff" stroke-width="1.2"/><ellipse cx="228.8" cy="637.5" rx="17.5" ry="9.8" stroke-width="0.6"/><path d="M211.3,618.5 V633.5 A17.5,8.5 0 0 0 246.3,633.5 V618.5" fill="#fff" stroke-width="0.7"/><ellipse cx="228.8" cy="618.5" rx="17.5" ry="8.5" fill="#fff" stroke-width="0.7"/><ellipse cx="228.8" cy="620.5" rx="14" ry="6.5" stroke-width="0.8"/><path d="M211.3,626.5 A17.5,8.5 0 0 0 246.3,626.5" stroke-width="0.6"/><path d="M217.8,634.5 v-5 h4 v3 M238.8,634.5 v-5 h-3" stroke-width="0.6"/><path d="M207.8,606.5 V609.5 A21,13 0 0 0 249.8,609.5 V606.5" fill="#fff" stroke-width="0.7"/><ellipse cx="228.8" cy="606.5" rx="21" ry="13" fill="#fff" stroke-width="0.8"/><line x1="226.3" y1="608.0" x2="231.3" y2="605.0" stroke-width="1.1"/></g><g stroke="#111" fill="none" stroke-width="0.7" stroke-linejoin="round"><rect x="338.3" y="705.0" width="4.8" height="20.0" fill="#fff"/><rect x="413.3" y="705.0" width="4.8" height="20.0" fill="#fff"/><polygon points="343.2,712.0 379.2,732.0 412.2,712.0 399.2,705.0 359.2,705.0" fill="#fff" stroke-width="0.7"/><polygon points="357.2,715.0 375.2,727.0 375.2,718.0 357.2,707.0" fill="url(#vp)" stroke="none"/><polygon points="383.2,727.0 393.2,721.0 393.2,713.0 383.2,719.0" fill="url(#vp)" stroke="none"/><path d="M379.2,732 V722 M386.2,729 v-9 M369.2,724 v-8" stroke-width="0.6"/><path d="M321.7,685 V699 M436.7,685 V699" stroke-width="0.6"/><polygon points="324.2,693.0 324.2,701.0 343.2,709.0 343.2,703.0" fill="url(#vp)" stroke="none"/><path d="M321.7,685 V688.5 A57.5,24.4 0 0 0 436.7,688.5 V685" fill="#fff" stroke-width="1"/><ellipse cx="379.2" cy="685" rx="57.5" ry="24.4" fill="#fff" stroke-width="0.9"/><ellipse cx="379.2" cy="685.5" rx="52" ry="20.9" stroke-width="0.6"/><polygon points="331.2,679.0 379.2,703.4 427.2,679.0 379.2,662.6" fill="#fff" stroke-width="0.6"/><polyline points="335.2,684.0 379.2,699.4 423.2,684.0" stroke-width="1.4" stroke-dasharray="0.8 1.3"/><path d="M337.2,675 v10 M421.2,675 v10 M363.2,669 v10" stroke-width="0.6"/><polygon points="399.2,670.0 415.2,678.0 415.2,686.0 399.2,678.0" fill="url(#vp)" stroke="none"/><polygon points="417.2,683.0 431.2,691.0 431.2,697.0 417.2,689.0" fill="url(#vp)" stroke="none"/><path d="M329.2,693 L351.2,705 M429.2,693 L407.2,705" stroke-width="1.2" stroke-dasharray="1 1.2"/><ellipse cx="379.2" cy="668" rx="57" ry="28" stroke-width="0.9"/><ellipse cx="379.2" cy="669" rx="54.5" ry="26" stroke-width="0.6"/><path d="M323.2,635 V640 A56,31 0 0 0 435.2,640 V635" fill="#fff" stroke-width="1.1"/><ellipse cx="379.2" cy="635" rx="56" ry="31" fill="#fff" stroke-width="1.1"/><path d="M325.7,635 A53.5,29 0 0 1 432.7,635" stroke-width="0.5"/><path d="M385.2,606.6 l1,-2.4 h9 l1,2.4" stroke-width="0.6"/><circle cx="421.2" cy="656" r="1.6" stroke-width="0.6"/><polygon points="326.4,644.6 359.6,663.7 369.0,658.1 369.0,662.1 359.6,667.7 326.4,648.6" fill="#fff" stroke-width="0.8"/><polygon points="335.7,638.7 369.0,658.1 359.6,663.7 326.4,644.6" fill="#fff" stroke-width="1"/><polygon points="345.3,646.0 356.3,652.4 350.7,655.9 339.7,649.5" stroke-width="0.6"/></g><g stroke="#111" fill="none" stroke-width="0.75" stroke-linejoin="round"><rect x="199" y="140" width="5.2" height="35" fill="#fff"/><path d="M194.5,177.5 v2.5 A7.5,4 0 0 0 209.5,180.0 v-2.5" fill="#fff"/><ellipse cx="202" cy="177.5" rx="7.5" ry="4" fill="#fff"/><ellipse cx="202" cy="177.0" rx="3.2" ry="1.8"/><rect x="42" y="140" width="5.2" height="35" fill="#fff"/><path d="M37.5,178 v2.5 A7.5,4 0 0 0 52.5,180.5 v-2.5" fill="#fff"/><ellipse cx="45" cy="178" rx="7.5" ry="4" fill="#fff"/><ellipse cx="45" cy="177.5" rx="3.2" ry="1.8"/><polygon points="166.3,172 173,169.7 198,169.7 192.5,173 192.5,185.4 166.3,185.4" fill="#fff"/><ellipse cx="171" cy="179.6" rx="1.3" ry="0.9"/><ellipse cx="180.7" cy="179.6" rx="1.3" ry="0.9"/><path d="M192.5,173 L198,169.7 V182 L192.5,185.4" fill="#fff"/><polygon points="53.7,172.4 74,172.4 81,176 81,186 58,186 53.7,183" fill="#fff"/><path d="M53.7,172.4 L50,170 V181 L53.7,183" fill="#fff"/><ellipse cx="65.6" cy="180" rx="1.3" ry="0.9"/><ellipse cx="75" cy="180" rx="1.3" ry="0.9"/><polygon points="44.8,141.2 129.1,187.8 204.2,143.3 201.6,163.2 129.6,198.5 47.0,152.0" fill="#fff"/><polygon points="49.5,144.0 66.7,154.2 66.7,165.2 49.5,155.0" fill="url(#vp)" stroke="none"/><polygon points="77.7,160.8 90.2,168.2 90.2,179.2 77.7,171.8" fill="url(#vp)" stroke="none"/><polygon points="102.7,175.7 119.2,185.5 119.2,196.5 102.7,186.7" fill="url(#vp)" stroke="none"/><path d="M68.3,155.2 v11" stroke-width="0.9"/><path d="M73.0,158.0 v11" stroke-width="0.9"/><path d="M91.8,169.2 v11" stroke-width="0.9"/><path d="M96.5,172.0 v11" stroke-width="0.9"/><path d="M80,171 v5 h3 M108,186 v5 h3" stroke-width="1.2"/><path d="M135.1,184.2 v10.8" stroke-width="0.6"/><path d="M145.6,178.0 v10.3" stroke-width="0.6"/><path d="M154.6,172.7 v10.0" stroke-width="0.6"/><path d="M166.6,165.6 v9.5" stroke-width="0.6"/><path d="M175.7,160.2 v9.1" stroke-width="0.6"/><path d="M189.2,152.2 v8.6" stroke-width="0.6"/><path d="M175,156 v5 h3" stroke-width="1.2"/><rect x="121" y="185.4" width="5.6" height="18" fill="#fff"/><path d="M116,219.6 V205.4 Q116,202.6 119,202.6 H129 Q131.2,202.6 131.2,205 V219.6" fill="#fff" stroke-width="0.7"/><path d="M121.4,203 v19 M125.6,203 v19" stroke-width="0.7"/><path d="M115.2,224.6 v2.5 A8.2,4.3 0 0 0 131.6,227.1 v-2.5" fill="#fff"/><ellipse cx="123.4" cy="224.6" rx="8.2" ry="4.3" fill="#fff"/><ellipse cx="123.4" cy="224.1" rx="3.2" ry="1.8"/><polygon points="38.8,130.4 123.0,81.6 208.2,130.5 208.2,138.3 123.1,185.4 38.8,138.2" fill="#fff" stroke-width="1"/><polyline points="38.8,130.4 123.1,177.6 208.2,130.5" stroke-width="0.9"/><polygon points="43.8,130.4 123.0,84.6 203.2,130.5 123.1,174.6" stroke-width="0.6"/><polyline points="38.8,132.9 123.1,180.1 208.2,133.0" stroke-width="0.5"/><path d="M80,110 l6,-3.4 l1.2,1.6 l-6,3.4 z" stroke-width="0.6"/><polygon points="61.2,140.4 72.4,133.9 117.3,159.6 105.6,166 " fill="#fff" stroke-width="0.9"/><polygon points="105.6,166 117.3,159.6 117.3,164 105.6,170.6" fill="#fff" stroke-width="0.8"/><polygon points="78.6,150 86,145.8 95.4,151.2 88,155.4" stroke-width="0.6"/></g><g stroke="#111" fill="none" stroke-width="0.7" stroke-linejoin="round"><ellipse cx="586.0" cy="453.4" rx="3.2" ry="2.4" fill="#fff" stroke-width="0.8"/><ellipse cx="586.0" cy="453.4" rx="1.4" ry="0.9"/><rect x="584.1" y="459.4" width="3.8" height="24.5" fill="#fff"/><path d="M584.1,461.4 h3.8 M584.1,481.4 h3.8" stroke-width="0.5"/><path d="M578.7,492.0 v2.2 A7.3,4.9 0 0 0 593.3,494.2 v-2.2" fill="#fff"/><ellipse cx="586.0" cy="492.0" rx="7.3" ry="4.9" fill="#fff"/><ellipse cx="586.0" cy="491.4" rx="2.6" ry="1.8"/><path d="M547.3,513.4 L564.3,504.79999999999995 L567.3,506.2 L563.5,501.0 L571.8,496.79999999999995 L573.9,498.0 L572.3,500.0 L575.0999999999999,501.2 L581.8,501.59999999999997 L574.0999999999999,507.0 L570.8,506.2 L572.9,509.79999999999995 L555.6999999999999,519.4 Q552.3,520.0 548.3,516.0 Z" fill="#fff" stroke-width="0.8"/><path d="M567.3,506.2 L571.6999999999999,508.79999999999995 M571.8,496.79999999999995 L577.3,500.2" stroke-width="0.6"/><ellipse cx="555.3" cy="514.8" rx="1" ry="0.7"/><ellipse cx="561.3" cy="511.59999999999997" rx="1" ry="0.7"/><ellipse cx="713.6" cy="453.7" rx="3.2" ry="2.4" fill="#fff" stroke-width="0.8"/><ellipse cx="713.6" cy="453.7" rx="1.4" ry="0.9"/><rect x="711.5" y="461.7" width="4.2" height="25" fill="#fff"/><path d="M711.5,463.7 h4.2" stroke-width="0.5"/><path d="M709.1,486.7 v5 A4.5,2.2 0 0 0 718.1,491.7 v-5" fill="#fff"/><ellipse cx="713.6" cy="486.7" rx="4.5" ry="2.2" fill="#fff"/><path d="M673.5,509.1 L699.5,495.3 Q703.5,492.6 707.5,495.1 L709.9,497.1 Q710.9,499.1 708.9,500.1 L683.5,513.7 Q680.5,514.7 677.5,513.5 L673.5,511.1 Q671.7,510.1 673.5,509.1 Z" fill="#fff" stroke-width="0.8"/><ellipse cx="702.5" cy="497.5" rx="5" ry="3.2" fill="#fff" stroke-width="0.8"/><ellipse cx="702.5" cy="497.90000000000003" rx="3.3" ry="2"/><ellipse cx="680.5" cy="509.70000000000005" rx="1" ry="0.7"/><ellipse cx="687.5" cy="506.1" rx="1" ry="0.7"/><ellipse cx="606.9" cy="459.4" rx="3.2" ry="2.4" fill="#fff" stroke-width="0.8"/><ellipse cx="606.9" cy="459.4" rx="1.4" ry="0.9"/><rect x="605.0" y="465.4" width="3.8" height="24.5" fill="#fff"/><path d="M605.0,467.4 h3.8 M605.0,487.4 h3.8" stroke-width="0.5"/><path d="M599.6,498.0 v2.2 A7.3,4.9 0 0 0 614.1999999999999,500.2 v-2.2" fill="#fff"/><ellipse cx="606.9" cy="498.0" rx="7.3" ry="4.9" fill="#fff"/><ellipse cx="606.9" cy="497.4" rx="2.6" ry="1.8"/><path d="M567.573,519.6999999999999 L584.573,511.0999999999999 L587.573,512.4999999999999 L583.773,507.29999999999995 L592.073,503.0999999999999 L594.173,504.29999999999995 L592.573,506.29999999999995 L595.3729999999999,507.49999999999994 L602.073,507.8999999999999 L594.3729999999999,513.3 L591.073,512.4999999999999 L593.173,516.0999999999999 L575.973,525.6999999999999 Q572.573,526.3 568.573,522.3 Z" fill="#fff" stroke-width="0.8"/><path d="M587.573,512.4999999999999 L591.973,515.0999999999999 M592.073,503.0999999999999 L597.573,506.49999999999994" stroke-width="0.6"/><ellipse cx="575.573" cy="521.0999999999999" rx="1" ry="0.7"/><ellipse cx="581.573" cy="517.9" rx="1" ry="0.7"/><ellipse cx="732.3000000000001" cy="461.9" rx="3.2" ry="2.4" fill="#fff" stroke-width="0.8"/><ellipse cx="732.3000000000001" cy="461.9" rx="1.4" ry="0.9"/><rect x="730.2" y="469.9" width="4.2" height="25" fill="#fff"/><path d="M730.2,471.9 h4.2" stroke-width="0.5"/><path d="M727.8000000000001,494.9 v5 A4.5,2.2 0 0 0 736.8000000000001,499.9 v-5" fill="#fff"/><ellipse cx="732.3000000000001" cy="494.9" rx="4.5" ry="2.2" fill="#fff"/><path d="M692.2,517.3000000000001 L718.2,503.50000000000006 Q722.2,500.80000000000007 726.2,503.30000000000007 L728.6,505.30000000000007 Q729.6,507.30000000000007 727.6,508.30000000000007 L702.2,521.9000000000001 Q699.2,522.9000000000001 696.2,521.7 L692.2,519.3000000000001 Q690.4000000000001,518.3000000000001 692.2,517.3000000000001 Z" fill="#fff" stroke-width="0.8"/><ellipse cx="721.2" cy="505.70000000000005" rx="5" ry="3.2" fill="#fff" stroke-width="0.8"/><ellipse cx="721.2" cy="506.1000000000001" rx="3.3" ry="2"/><ellipse cx="699.2" cy="517.9000000000001" rx="1" ry="0.7"/><ellipse cx="706.2" cy="514.3000000000001" rx="1" ry="0.7"/><ellipse cx="627.8" cy="465.4" rx="3.2" ry="2.4" fill="#fff" stroke-width="0.8"/><ellipse cx="627.8" cy="465.4" rx="1.4" ry="0.9"/><rect x="625.9" y="471.4" width="3.8" height="24.5" fill="#fff"/><path d="M625.9,473.4 h3.8 M625.9,493.4 h3.8" stroke-width="0.5"/><path d="M620.5,504.0 v2.2 A7.3,4.9 0 0 0 635.0999999999999,506.2 v-2.2" fill="#fff"/><ellipse cx="627.8" cy="504.0" rx="7.3" ry="4.9" fill="#fff"/><ellipse cx="627.8" cy="503.4" rx="2.6" ry="1.8"/><path d="M587.846,526.0 L604.846,517.4 L607.846,518.8 L604.046,513.6 L612.346,509.4 L614.446,510.6 L612.846,512.6 L615.646,513.8 L622.346,514.2 L614.646,519.6 L611.346,518.8 L613.446,522.4 L596.246,532.0 Q592.846,532.6 588.846,528.6 Z" fill="#fff" stroke-width="0.8"/><path d="M607.846,518.8 L612.246,521.4 M612.346,509.4 L617.846,512.8" stroke-width="0.6"/><ellipse cx="595.846" cy="527.4" rx="1" ry="0.7"/><ellipse cx="601.846" cy="524.2" rx="1" ry="0.7"/><ellipse cx="751.0" cy="470.09999999999997" rx="3.2" ry="2.4" fill="#fff" stroke-width="0.8"/><ellipse cx="751.0" cy="470.09999999999997" rx="1.4" ry="0.9"/><rect x="748.9" y="478.09999999999997" width="4.2" height="25" fill="#fff"/><path d="M748.9,480.09999999999997 h4.2" stroke-width="0.5"/><path d="M746.5,503.09999999999997 v5 A4.5,2.2 0 0 0 755.5,508.09999999999997 v-5" fill="#fff"/><ellipse cx="751.0" cy="503.09999999999997" rx="4.5" ry="2.2" fill="#fff"/><path d="M710.9,525.5 L736.9,511.7 Q740.9,509.0 744.9,511.5 L747.3,513.5 Q748.3,515.5 746.3,516.5 L720.9,530.1 Q717.9,531.1 714.9,529.9 L710.9,527.5 Q709.1,526.5 710.9,525.5 Z" fill="#fff" stroke-width="0.8"/><ellipse cx="739.9" cy="513.9" rx="5" ry="3.2" fill="#fff" stroke-width="0.8"/><ellipse cx="739.9" cy="514.3" rx="3.3" ry="2"/><ellipse cx="717.9" cy="526.1" rx="1" ry="0.7"/><ellipse cx="724.9" cy="522.5" rx="1" ry="0.7"/><ellipse cx="648.7" cy="471.4" rx="3.2" ry="2.4" fill="#fff" stroke-width="0.8"/><ellipse cx="648.7" cy="471.4" rx="1.4" ry="0.9"/><rect x="646.8000000000001" y="477.4" width="3.8" height="24.5" fill="#fff"/><path d="M646.8000000000001,479.4 h3.8 M646.8000000000001,499.4 h3.8" stroke-width="0.5"/><path d="M641.4000000000001,510.0 v2.2 A7.3,4.9 0 0 0 656.0,512.1999999999999 v-2.2" fill="#fff"/><ellipse cx="648.7" cy="510.0" rx="7.3" ry="4.9" fill="#fff"/><ellipse cx="648.7" cy="509.4" rx="2.6" ry="1.8"/><path d="M608.1189999999999,532.3 L625.1189999999999,523.6999999999999 L628.1189999999999,525.0999999999999 L624.319,519.9 L632.6189999999999,515.6999999999999 L634.7189999999999,516.9 L633.1189999999999,518.9 L635.9189999999999,520.0999999999999 L642.6189999999999,520.5 L634.9189999999999,525.9 L631.6189999999999,525.0999999999999 L633.7189999999999,528.6999999999999 L616.5189999999999,538.3 Q613.1189999999999,538.9 609.1189999999999,534.9 Z" fill="#fff" stroke-width="0.8"/><path d="M628.1189999999999,525.0999999999999 L632.5189999999999,527.6999999999999 M632.6189999999999,515.6999999999999 L638.1189999999999,519.0999999999999" stroke-width="0.6"/><ellipse cx="616.1189999999999" cy="533.6999999999999" rx="1" ry="0.7"/><ellipse cx="622.1189999999999" cy="530.5" rx="1" ry="0.7"/><ellipse cx="769.7" cy="478.3" rx="3.2" ry="2.4" fill="#fff" stroke-width="0.8"/><ellipse cx="769.7" cy="478.3" rx="1.4" ry="0.9"/><rect x="767.6" y="486.3" width="4.2" height="25" fill="#fff"/><path d="M767.6,488.3 h4.2" stroke-width="0.5"/><path d="M765.2,511.3 v5 A4.5,2.2 0 0 0 774.2,516.3 v-5" fill="#fff"/><ellipse cx="769.7" cy="511.3" rx="4.5" ry="2.2" fill="#fff"/><path d="M729.6,533.7 L755.6,519.9000000000001 Q759.6,517.2 763.6,519.7 L766.0,521.7 Q767.0,523.7 765.0,524.7 L739.6,538.3000000000001 Q736.6,539.3000000000001 733.6,538.1 L729.6,535.7 Q727.8000000000001,534.7 729.6,533.7 Z" fill="#fff" stroke-width="0.8"/><ellipse cx="758.6" cy="522.1" rx="5" ry="3.2" fill="#fff" stroke-width="0.8"/><ellipse cx="758.6" cy="522.5" rx="3.3" ry="2"/><ellipse cx="736.6" cy="534.3000000000001" rx="1" ry="0.7"/><ellipse cx="743.6" cy="530.7" rx="1" ry="0.7"/></g>
<rect x="92.2" y="29.6" width="6.3" height="6.2" rx="1.6" fill="#5a5a5a"/><rect x="92.2" y="39.6" width="6.3" height="6.4" rx="1.6" fill="#5a5a5a"/>
<text x="101.8" y="45.8" class="b" style="font-size:30.4px;fill:#5a5a5a;letter-spacing:-1.1px">hager</text>
<text transform="translate(21,134) rotate(-90)" style="font-size:10px" textLength="53.8" lengthAdjust="spacingAndGlyphs">6LE003403A</text>
<text x="266.6" y="89.8" textLength="94.4" lengthAdjust="spacingAndGlyphs" style="font-size:11.9px" >Montageanleitung</text>
<text x="266.6" y="104.8" textLength="112.2" lengthAdjust="spacingAndGlyphs" style="font-size:11.9px" >Mounting instructions</text>
<text x="266.6" y="119.8" textLength="106.4" lengthAdjust="spacingAndGlyphs" style="font-size:11.9px" >Notice d‘instructions</text>
<text x="266.6" y="134.8" textLength="114" lengthAdjust="spacingAndGlyphs" style="font-size:11.9px" >Instrukcja montażowa</text>
<g fill="none" stroke="#6a6a6a" stroke-width="0.9"><ellipse cx="243.3" cy="87.1" rx="10" ry="6.5"/><ellipse cx="243.3" cy="102.1" rx="10" ry="6.5"/><ellipse cx="243.3" cy="117.1" rx="10" ry="6.5"/><ellipse cx="243.3" cy="132.1" rx="10" ry="6.5"/></g>
<g style="font-size:9.3px;fill:#555"><text x="237.7" y="90.8" textLength="11.2" lengthAdjust="spacingAndGlyphs">DE</text><text x="237.5" y="105.8" textLength="11.6" lengthAdjust="spacingAndGlyphs">GB</text><text x="238.0" y="120.8" textLength="10.6" lengthAdjust="spacingAndGlyphs">FR</text><text x="238.1" y="135.8" textLength="10.4" lengthAdjust="spacingAndGlyphs">PL</text></g>
<g stroke="#4f4f4f" stroke-width="0.25">
<text x="15.2" y="248.7" textLength="178.4" lengthAdjust="spacingAndGlyphs" class="b" style="font-size:13.1px" >EKQx / EKRx / EKSQx / EKSRx /</text>
<text x="15.2" y="264.9" textLength="77.6" lengthAdjust="spacingAndGlyphs" class="b" style="font-size:13.1px" >MKQx / MKRx</text>
</g>
<text x="104.6" y="399.9" textLength="67.8" lengthAdjust="spacingAndGlyphs" style="font-size:12.4px" >EKQxxxBLxx</text>
<text x="104.6" y="413.5" textLength="75.4" lengthAdjust="spacingAndGlyphs" style="font-size:12.4px" >EKSQxxxBLxx</text>
<text x="104.6" y="427.2" textLength="69.6" lengthAdjust="spacingAndGlyphs" style="font-size:12.4px" >MKQxxxBLxx</text>
<text x="265" y="399.9" textLength="70" lengthAdjust="spacingAndGlyphs" style="font-size:12.4px" >EKQxxxTMxx</text>
<text x="265" y="413.5" textLength="77.8" lengthAdjust="spacingAndGlyphs" style="font-size:12.4px" >EKSQxxxTMxx</text>
<text x="423.5" y="399.9" textLength="67.3" lengthAdjust="spacingAndGlyphs" style="font-size:12.4px" >EKQxxxLExx</text>
<text x="423.5" y="413.9" textLength="69.3" lengthAdjust="spacingAndGlyphs" style="font-size:12.4px" >MKQxxxLExx</text>
<text x="39.5" y="571.4" textLength="66.7" lengthAdjust="spacingAndGlyphs" style="font-size:12.4px" >EKRxxxBLxx</text>
<text x="39.5" y="584.7" textLength="74.4" lengthAdjust="spacingAndGlyphs" style="font-size:12.4px" >EKSRxxxBLxx</text>
<text x="39.5" y="598.1" textLength="68.6" lengthAdjust="spacingAndGlyphs" style="font-size:12.4px" >MKRxxxBLxx</text>
<text x="190.3" y="574.5" textLength="69.2" lengthAdjust="spacingAndGlyphs" style="font-size:12.4px" >EKRxxxTMxx</text>
<text x="190.3" y="588.6" textLength="76.9" lengthAdjust="spacingAndGlyphs" style="font-size:12.4px" >EKSRxxxTMxx</text>
<text x="345.2" y="574.5" textLength="66.7" lengthAdjust="spacingAndGlyphs" style="font-size:12.4px" >EKRxxxLExx</text>
<text x="345.2" y="588.6" textLength="68.6" lengthAdjust="spacingAndGlyphs" style="font-size:12.4px" >MKRxxxLExx</text>
<g stroke="#4f4f4f" stroke-width="0.3">
<text x="551" y="556.1" textLength="63.8" lengthAdjust="spacingAndGlyphs" class="b" style="font-size:10.4px" >EKQx / EKRx</text>
<text x="551" y="569.5" textLength="67.4" lengthAdjust="spacingAndGlyphs" class="b" style="font-size:10.4px" >MKQx / MKRx</text>
<text x="665.3" y="556.1" textLength="77.9" lengthAdjust="spacingAndGlyphs" class="b" style="font-size:10.4px" >EKSQx / EKSRx</text>
<text x="550.2" y="589" class="b" style="font-size:10.4px" >+</text>
<text x="664.2" y="589" class="b" style="font-size:10.4px" >+</text>
</g>
<g stroke="#555" shape-rendering="crispEdges"><line x1="546" y1="575.5" x2="775" y2="575.5" stroke-width="2.6"/><line x1="546" y1="593.5" x2="775" y2="593.5"/><line x1="546" y1="612.5" x2="775" y2="612.5"/><line x1="546" y1="630.5" x2="775" y2="630.5"/><line x1="546" y1="649.5" x2="775" y2="649.5"/></g>
<text x="551" y="608" textLength="101.8" lengthAdjust="spacingAndGlyphs" style="font-size:10.6px" >EKNS060 EKSNS065</text>
<text x="551" y="625" textLength="101.4" lengthAdjust="spacingAndGlyphs" style="font-size:10.6px" >EKNS105 EKSNS110</text>
<text x="551" y="643.8" textLength="46" lengthAdjust="spacingAndGlyphs" style="font-size:10.6px" >EKNS150</text>
<text x="551" y="662.2" textLength="46" lengthAdjust="spacingAndGlyphs" style="font-size:10.6px" >EKNS195</text>
<text x="15" y="1118.2" style="font-size:10px" textLength="9.4" lengthAdjust="spacingAndGlyphs">01</text>
</svg>
</body></html>
